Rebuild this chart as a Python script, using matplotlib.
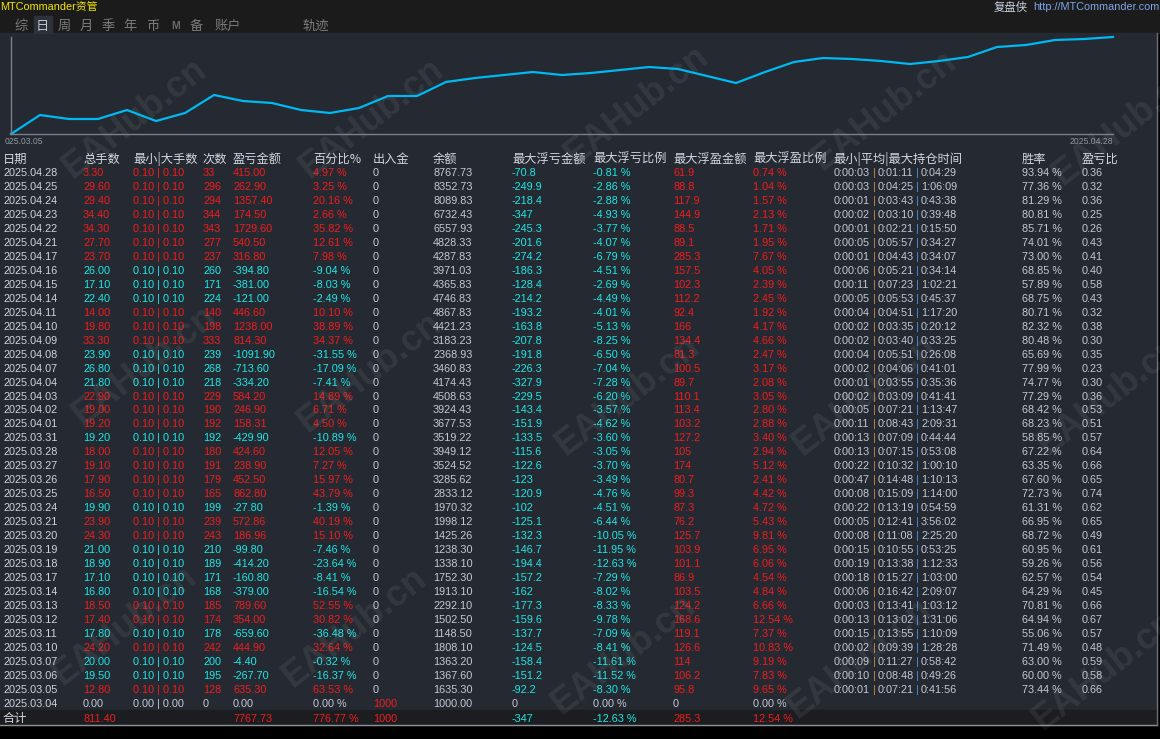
import matplotlib
matplotlib.use('Agg')
import matplotlib.pyplot as plt
from matplotlib import font_manager
from matplotlib.patches import Rectangle


def font_ok(name):
    try:
        font_manager.findfont(font_manager.FontProperties(family=name),
                              fallback_to_default=False)
        return True
    except ValueError:
        return False


# ---- data (top row = newest day) ----
dates = ['2025.04.28', '2025.04.25', '2025.04.24', '2025.04.23', '2025.04.22', '2025.04.21',
         '2025.04.17', '2025.04.16', '2025.04.15', '2025.04.14', '2025.04.11', '2025.04.10',
         '2025.04.09', '2025.04.08', '2025.04.07', '2025.04.04', '2025.04.03', '2025.04.02',
         '2025.04.01', '2025.03.31', '2025.03.28', '2025.03.27', '2025.03.26', '2025.03.25',
         '2025.03.24', '2025.03.21', '2025.03.20', '2025.03.19', '2025.03.18', '2025.03.17',
         '2025.03.14', '2025.03.13', '2025.03.12', '2025.03.11', '2025.03.10', '2025.03.07',
         '2025.03.06', '2025.03.05', '2025.03.04']
lots = [3.30, 29.60, 29.40, 34.40, 34.30, 27.70, 23.70, 26.00, 17.10, 22.40, 14.00, 19.80,
        33.30, 23.90, 26.80, 21.80, 22.90, 19.00, 19.20, 19.20, 18.00, 19.10, 17.90, 16.50,
        19.90, 23.90, 24.30, 21.00, 18.90, 17.10, 16.80, 18.50, 17.40, 17.80, 24.20, 20.00,
        19.50, 12.80, 0.00]
min_lot = [0.10, 0.10, 0.10, 0.10, 0.10, 0.10, 0.10, 0.10, 0.10, 0.10, 0.10, 0.10, 0.10,
           0.10, 0.10, 0.10, 0.10, 0.10, 0.10, 0.10, 0.10, 0.10, 0.10, 0.10, 0.10, 0.10,
           0.10, 0.10, 0.10, 0.10, 0.10, 0.10, 0.10, 0.10, 0.10, 0.10, 0.10, 0.10, 0.00]
max_lot = [0.10, 0.10, 0.10, 0.10, 0.10, 0.10, 0.10, 0.10, 0.10, 0.10, 0.10, 0.10, 0.10,
           0.10, 0.10, 0.10, 0.10, 0.10, 0.10, 0.10, 0.10, 0.10, 0.10, 0.10, 0.10, 0.10,
           0.10, 0.10, 0.10, 0.10, 0.10, 0.10, 0.10, 0.10, 0.10, 0.10, 0.10, 0.10, 0.00]
trades = [33, 296, 294, 344, 343, 277, 237, 260, 171, 224, 140, 198, 333, 239, 268, 218,
          229, 190, 192, 192, 180, 191, 179, 165, 199, 239, 243, 210, 189, 171, 168, 185,
          174, 178, 242, 200, 195, 128, 0]
pnl = [415.00, 262.90, 1357.40, 174.50, 1729.60, 540.50, 316.80, -394.80, -381.00, -121.00,
       446.60, 1238.00, 814.30, -1091.90, -713.60, -334.20, 584.20, 246.90, 158.31, -429.90,
       424.60, 238.90, 452.50, 862.80, -27.80, 572.86, 186.96, -99.80, -414.20, -160.80,
       -379.00, 789.60, 354.00, -659.60, 444.90, -4.40, -267.70, 635.30, 0.00]
pct = [4.97, 3.25, 20.16, 2.66, 35.82, 12.61, 7.98, -9.04, -8.03, -2.49, 10.10, 38.89, 34.37,
       -31.55, -17.09, -7.41, 14.89, 6.71, 4.50, -10.89, 12.05, 7.27, 15.97, 43.79, -1.39,
       40.19, 15.10, -7.46, -23.64, -8.41, -16.54, 52.55, 30.82, -36.48, 32.64, -0.32, -16.37,
       63.53, 0.00]
deposit = [0, 0, 0, 0, 0, 0, 0, 0, 0, 0, 0, 0, 0, 0, 0, 0, 0, 0, 0, 0, 0, 0, 0, 0, 0, 0,
           0, 0, 0, 0, 0, 0, 0, 0, 0, 0, 0, 0, 1000]
balance = [8767.73, 8352.73, 8089.83, 6732.43, 6557.93, 4828.33, 4287.83, 3971.03, 4365.83,
           4746.83, 4867.83, 4421.23, 3183.23, 2368.93, 3460.83, 4174.43, 4508.63, 3924.43,
           3677.53, 3519.22, 3949.12, 3524.52, 3285.62, 2833.12, 1970.32, 1998.12, 1425.26,
           1238.30, 1338.10, 1752.30, 1913.10, 2292.10, 1502.50, 1148.50, 1808.10, 1363.20,
           1367.60, 1635.30, 1000.00]
float_loss = [-70.8, -249.9, -218.4, -347, -245.3, -201.6, -274.2, -186.3, -128.4, -214.2,
              -193.2, -163.8, -207.8, -191.8, -226.3, -327.9, -229.5, -143.4, -151.9, -133.5,
              -115.6, -122.6, -123, -120.9, -102, -125.1, -132.3, -146.7, -194.4, -157.2,
              -162, -177.3, -159.6, -137.7, -124.5, -158.4, -151.2, -92.2, 0]
float_loss_pct = [-0.81, -2.86, -2.88, -4.93, -3.77, -4.07, -6.79, -4.51, -2.69, -4.49, -4.01,
                  -5.13, -8.25, -6.50, -7.04, -7.28, -6.20, -3.57, -4.62, -3.60, -3.05, -3.70,
                  -3.49, -4.76, -4.51, -6.44, -10.05, -11.95, -12.63, -7.29, -8.02, -8.33,
                  -9.78, -7.09, -8.41, -11.61, -11.52, -8.30, 0.00]
float_profit = [61.9, 88.8, 117.9, 144.9, 88.5, 89.1, 285.3, 157.5, 102.3, 112.2, 92.4, 166,
                134.4, 81.3, 100.5, 89.7, 110.1, 113.4, 103.2, 127.2, 105, 174, 80.7, 99.3,
                87.3, 76.2, 125.7, 103.9, 101.1, 86.9, 103.5, 124.2, 168.6, 119.1, 126.6, 114,
                106.2, 95.8, 0]
float_profit_pct = [0.74, 1.04, 1.57, 2.13, 1.71, 1.95, 7.67, 4.05, 2.39, 2.45, 1.92, 4.17,
                    4.66, 2.47, 3.17, 2.08, 3.05, 2.80, 2.88, 3.40, 2.94, 5.12, 2.41, 4.42,
                    4.72, 5.43, 9.81, 6.95, 6.06, 4.54, 4.84, 6.66, 12.54, 7.37, 10.83, 9.19,
                    7.83, 9.65, 0.00]
hold_min = ['0:00:03', '0:00:03', '0:00:01', '0:00:02', '0:00:01', '0:00:05', '0:00:01',
            '0:00:06', '0:00:11', '0:00:05', '0:00:04', '0:00:02', '0:00:02', '0:00:04',
            '0:00:02', '0:00:01', '0:00:02', '0:00:05', '0:00:11', '0:00:13', '0:00:13',
            '0:00:22', '0:00:47', '0:00:08', '0:00:22', '0:00:05', '0:00:08', '0:00:15',
            '0:00:19', '0:00:18', '0:00:06', '0:00:03', '0:00:13', '0:00:15', '0:00:02',
            '0:00:09', '0:00:10', '0:00:01', '']
hold_avg = ['0:01:11', '0:04:25', '0:03:43', '0:03:10', '0:02:21', '0:05:57', '0:04:43',
            '0:05:21', '0:07:23', '0:05:53', '0:04:51', '0:03:35', '0:03:40', '0:05:51',
            '0:04:06', '0:03:55', '0:03:09', '0:07:21', '0:08:43', '0:07:09', '0:07:15',
            '0:10:32', '0:14:48', '0:15:09', '0:13:19', '0:12:41', '0:11:08', '0:10:55',
            '0:13:38', '0:15:27', '0:16:42', '0:13:41', '0:13:02', '0:13:55', '0:09:39',
            '0:11:27', '0:08:48', '0:07:21', '']
hold_max = ['0:04:29', '1:06:09', '0:43:38', '0:39:48', '0:15:50', '0:34:27', '0:34:07',
            '0:34:14', '1:02:21', '0:45:37', '1:17:20', '0:20:12', '0:33:25', '0:26:08',
            '0:41:01', '0:35:36', '0:41:41', '1:13:47', '2:09:31', '0:44:44', '0:53:08',
            '1:00:10', '1:10:13', '1:14:00', '0:54:59', '3:56:02', '2:25:20', '0:53:25',
            '1:12:33', '1:03:00', '2:09:07', '1:03:12', '1:31:06', '1:10:09', '1:28:28',
            '0:58:42', '0:49:26', '0:41:56', '']
win_rate = [93.94, 77.36, 81.29, 80.81, 85.71, 74.01, 73.00, 68.85, 57.89, 68.75, 80.71,
            82.32, 80.48, 65.69, 77.99, 74.77, 77.29, 68.42, 68.23, 58.85, 67.22, 63.35,
            67.60, 72.73, 61.31, 66.95, 68.72, 60.95, 59.26, 62.57, 64.29, 70.81, 64.94,
            55.06, 71.49, 63.00, 60.00, 73.44, None]
pl_ratio = [0.36, 0.32, 0.36, 0.25, 0.26, 0.43, 0.41, 0.40, 0.58, 0.43, 0.32, 0.38, 0.30,
            0.35, 0.23, 0.30, 0.36, 0.53, 0.51, 0.57, 0.64, 0.66, 0.65, 0.74, 0.62, 0.65,
            0.49, 0.61, 0.56, 0.54, 0.45, 0.66, 0.67, 0.57, 0.48, 0.59, 0.58, 0.66, None]

total_lots = 811.40
total_pnl = 7767.73
total_pct = 776.77
total_deposit = 1000
total_float_loss = -347
total_float_loss_pct = -12.63
total_float_profit = 285.3
total_float_profit_pct = 12.54

# equity track drawn at the top, oldest -> newest (heights)
curve = [0, 19, 15, 15, 24, 13, 21, 39, 33, 31, 24, 21, 26, 38, 38, 52, 56, 59, 62, 59,
         61, 64, 67, 65, 58, 51, 62, 72, 76, 75, 73, 70, 73, 77, 87, 89, 94, 95, 97]
curve_start_label = '025.03.05'
curve_end_label = '2025.04.28'

headers = ['日期', '总手数', '最小|大手数', '次数', '盈亏金额', '百分比%', '出入金', '余额',
           '最大浮亏金额', '最大浮亏比例', '最大浮盈金额', '最大浮盈比例',
           '最小|平均|最大持仓时间', '胜率', '盈亏比']
tabs = ['综', '日', '周', '月', '季', '年', '币', 'M', '备', '账户', '轨迹']

# ---- style ----
if font_ok('Liberation Sans Narrow'):
    NUM = ['Liberation Sans Narrow', 'Noto Sans CJK SC', 'DejaVu Sans']
    NS = 9.5
else:
    NUM = ['Liberation Sans', 'Noto Sans CJK SC', 'DejaVu Sans']
    NS = 7.8
CJK = ['Noto Sans CJK SC', 'DejaVu Sans']

TOP_BG = '#1b1b1b'
PANEL = '#252a32'
TOTAL_BG = '#1b1d21'
RED = '#f21c1c'
CYAN = '#1de8e6'
GRAY = '#c3c9d3'
DATE_C = '#cfd3da'
ORANGE = '#c98a3c'
BLUE = '#4f8fe0'

col_x = [3, 83, 133, 203, 233, 313, 373, 433, 512, 593, 673, 753, 833, 1022, 1082]
tab_x = [14, 36, 58, 80, 102, 123, 146, 171, 190, 215, 302]
row0 = 176.0
pitch = 13.97

fig = plt.figure(figsize=(11.6, 7.39), dpi=100, facecolor='black')
ax = fig.add_axes([0, 0, 1, 1])
ax.set_xlim(0, 1160)
ax.set_ylim(739, 0)
ax.axis('off')

ax.add_patch(Rectangle((0, 0), 1160, 33, color=TOP_BG, zorder=0))
ax.add_patch(Rectangle((0, 33), 1157, 677, color=PANEL, zorder=0))
ax.add_patch(Rectangle((0, 710), 1157, 14.5, color=TOTAL_BG, zorder=0))
ax.plot([0, 1157], [724.5, 724.5], color='#8d9299', lw=1, zorder=1)
ax.plot([1156.5, 1156.5], [33, 724.5], color='#6a6f76', lw=1, zorder=1)

# title bar
ax.text(0, 10, 'MTCommander资管', family=NUM, fontsize=NS, color='#f2e600', va='baseline')
ax.text(994, 10.5, '复盘侠', family=CJK, fontsize=8.2, color='#c8d0e0', va='baseline')
ax.text(1033, 10, 'http://MTCommander.com', family=NUM, fontsize=NS, color='#7ea6ea',
        va='baseline')

# tabs
ax.add_patch(Rectangle((34, 16), 18, 17, color='#2c313a', zorder=0.5))
for name, x in zip(tabs, tab_x):
    if name == 'M':
        ax.text(x, 29, name, family=NUM, fontsize=7.5, fontweight='bold', color='#6a6a6a',
                va='baseline')
    else:
        c = '#bfc3ca' if name == '日' else '#7c7c7c'
        ax.text(x, 30, name, family=CJK, fontsize=9.5, color=c, va='baseline')

# equity track
axl = fig.add_axes([11 / 1160, 1 - 134 / 739, 1102 / 1160, 97 / 739])
axl.patch.set_visible(False)
axl.plot(range(len(curve)), curve, color='#00b9f2', lw=1.6, clip_on=False)
axl.set_xlim(0, len(curve) - 1)
axl.set_ylim(0, 97)
axl.set_xticks([])
axl.set_yticks([])
for s in ['top', 'right']:
    axl.spines[s].set_visible(False)
for s in ['left', 'bottom']:
    axl.spines[s].set_color('#7b8088')
    axl.spines[s].set_linewidth(1)
ax.text(5, 144.5, curve_start_label, family=NUM, fontsize=NS * 0.8, color='#9097a0',
        va='baseline')
ax.text(1113, 144.5, curve_end_label, family=NUM, fontsize=NS * 0.8, color='#9097a0',
        va='baseline', ha='right')

# header row
for h, x in zip(headers, col_x):
    ax.text(x, 162.5, h, family=CJK, fontsize=8.8, color='#d2d6de', va='baseline')


def put(x, y, s, c):
    ax.text(x, y, s, family=NUM, fontsize=NS, color=c, va='baseline')


for i in range(len(dates)):
    y = row0 + pitch * i
    sc = RED if pnl[i] > 0 else (CYAN if pnl[i] < 0 else GRAY)
    put(col_x[0], y, dates[i], DATE_C)
    put(col_x[1], y, f'{lots[i]:.2f}', sc)
    put(col_x[2], y, f'{min_lot[i]:.2f} | {max_lot[i]:.2f}', sc)
    put(col_x[3], y, f'{trades[i]}', sc)
    put(col_x[4], y, f'{pnl[i]:.2f}', sc)
    put(col_x[5], y, f'{pct[i]:.2f} %', sc)
    put(col_x[6], y, f'{deposit[i]}', RED if deposit[i] > 0 else GRAY)
    put(col_x[7], y, f'{balance[i]:.2f}', GRAY)
    put(col_x[8], y, f'{float_loss[i]:g}', CYAN if float_loss[i] != 0 else GRAY)
    put(col_x[9], y, f'{float_loss_pct[i]:.2f} %', CYAN if float_loss_pct[i] != 0 else GRAY)
    put(col_x[10], y, f'{float_profit[i]:g}', RED if float_profit[i] != 0 else GRAY)
    put(col_x[11], y, f'{float_profit_pct[i]:.2f} %', RED if float_profit_pct[i] != 0 else GRAY)
    if hold_min[i]:
        x0 = col_x[12] + 1
        put(x0, y, hold_min[i], GRAY)
        put(x0 + 38.5, y, '|', ORANGE)
        put(x0 + 43.5, y, hold_avg[i], GRAY)
        put(x0 + 82, y, '|', BLUE)
        put(x0 + 87, y, hold_max[i], GRAY)
    if win_rate[i] is not None:
        put(col_x[13], y, f'{win_rate[i]:.2f} %', GRAY)
        put(col_x[14], y, f'{pl_ratio[i]:.2f}', GRAY)

# totals
yt = 722
ax.text(col_x[0], yt, '合计', family=CJK, fontsize=8.8, color='#d2d6de', va='baseline')
put(col_x[1], yt, f'{total_lots:.2f}', RED)
put(col_x[4], yt, f'{total_pnl:.2f}', RED)
put(col_x[5], yt, f'{total_pct:.2f} %', RED)
put(col_x[6], yt, f'{total_deposit}', RED)
put(col_x[8], yt, f'{total_float_loss:g}', CYAN)
put(col_x[9], yt, f'{total_float_loss_pct:.2f} %', CYAN)
put(col_x[10], yt, f'{total_float_profit:g}', RED)
put(col_x[11], yt, f'{total_float_profit_pct:.2f} %', RED)

# watermark
wm_x = [135, 372, 637, 885, 1125, 145, 370, 628, 865, 1110, 125, 355, 624, 860, 1105]
wm_y = [118, 118, 105, 110, 125, 365, 372, 395, 395, 395, 625, 627, 654, 658, 670]
for x, y in zip(wm_x, wm_y):
    ax.text(x, y, 'EAHub.cn', family=['Liberation Sans', 'DejaVu Sans'], fontsize=26,
            fontweight='bold', rotation=38, rotation_mode='anchor', ha='center',
            va='center', color='white', alpha=0.07, zorder=10)

fig.savefig('out.png', dpi=100, facecolor=fig.get_facecolor())
